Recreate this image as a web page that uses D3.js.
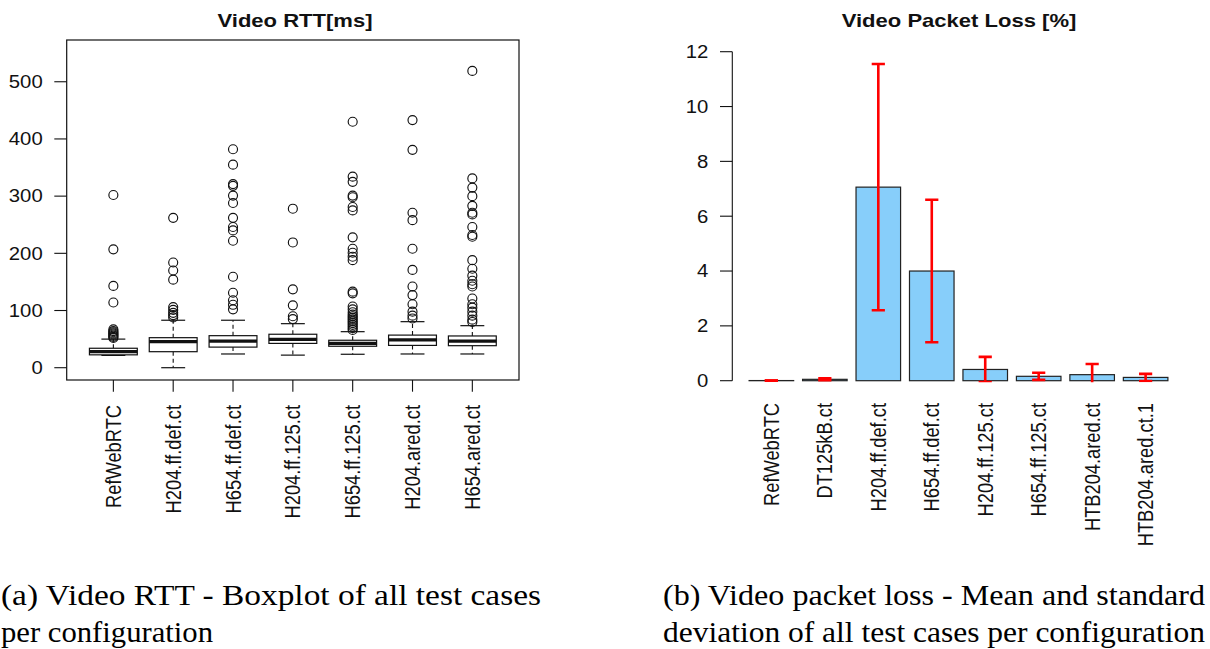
<!DOCTYPE html>
<html><head><meta charset="utf-8">
<script src="https://cdn.jsdelivr.net/npm/d3@7"></script>
<style>body{margin:0;background:#fff}svg{display:block}</style>
</head><body>
<svg id="c" width="1210" height="649"></svg>
<script>
// ---------- data ----------
const rttTitle = "Video RTT[ms]";
const rttCategories = ["RefWebRTC","H204.ff.def.ct","H654.ff.def.ct","H204.ff.125.ct","H654.ff.125.ct","H204.ared.ct","H654.ared.ct"];
// [lower whisker, Q1, median, Q3, upper whisker]
const rttStats = [
  [21.5, 22.5, 28, 34, 50],
  [0, 28, 45.5, 52.5, 83],
  [24, 36, 46.5, 56, 83],
  [22, 42.5, 49.5, 58.5, 77],
  [23.5, 37.5, 42.5, 48, 63],
  [24, 39, 48.5, 57, 80.5],
  [24, 38.5, 46.5, 55.5, 73.5]
];
const rttOutliers = [
  [52, 54, 56, 58, 60, 62, 64, 67, 114, 143, 207, 302],
  [88, 92, 96, 101, 106, 154, 170, 184, 262],
  [102, 110, 118, 131, 159, 222, 240, 246, 262, 288, 301, 318, 321, 355, 382],
  [85, 90, 109, 137, 219, 278],
  [66, 69, 72, 75, 78, 81, 84, 87, 90, 93, 97, 102, 107, 130, 133, 188, 194, 201, 208, 228, 275, 281, 298, 301, 325, 334, 430],
  [86, 91, 98, 111, 127, 142, 171, 208, 258, 271, 381, 433],
  [80, 84, 91, 98, 105, 111, 121, 142, 146, 152, 161, 173, 188, 229, 232, 246, 268, 271, 283, 300, 315, 331, 519]
];
const rttTicks = [0, 100, 200, 300, 400, 500];

const lossTitle = "Video Packet Loss [%]";
const lossCategories = ["RefWebRTC","DT125kB.ct","H204.ff.def.ct","H654.ff.def.ct","H204.ff.125.ct","H654.ff.125.ct","HTB204.ared.ct","HTB204.ared.ct.1"];
const lossMean = [0.005, 0.05, 7.06, 4.0, 0.41, 0.16, 0.22, 0.12];
const lossSd   = [0.003, 0.035, 4.49, 2.6, 0.46, 0.13, 0.39, 0.13];
const lossTicks = [0, 2, 4, 6, 8, 10, 12];

const captionA = ["(a) Video RTT - Boxplot of all test cases", "per configuration"];
const captionB = ["(b) Video packet loss - Mean and standard", "deviation of all test cases per configuration"];

// ---------- drawing ----------
const svg = d3.select("#c");
svg.append("rect").attr("width",1210).attr("height",649).attr("fill","#fff");
const SX = 1.16;
const sans = "'Liberation Sans', Arial, Helvetica, sans-serif";
const ink = "#111";

function hText(g, x, y, txt, opts) {
  return g.append("text")
    .attr("transform", `translate(${x},${y}) scale(${SX},1)`)
    .attr("text-anchor", opts.anchor || "middle")
    .attr("dy", opts.dy || "0")
    .attr("font-family", sans)
    .attr("font-size", opts.size || 16)
    .attr("font-weight", opts.weight || "normal")
    .attr("fill", ink)
    .text(txt);
}
function vText(g, x, y, txt, size) {
  return g.append("text")
    .attr("transform", `translate(${x},${y}) scale(${SX},1) rotate(-90)`)
    .attr("text-anchor", "end")
    .attr("dy", "0.36em")
    .attr("font-family", sans)
    .attr("font-size", size)
    .attr("fill", ink)
    .text(txt);
}

// ===== Left: boxplot =====
{
  const L = {x0: 66.7, x1: 519, y0: 40, y1: 380};
  const g = svg.append("g");
  const x = d3.scalePoint().domain(rttCategories).range([L.x0, L.x1]).padding(0.78);
  const y = d3.scaleLinear().domain([-21.5, 573]).range([L.y1, L.y0]);
  const bw = x.step() * 0.8;
  const cap = bw / 4;

  hText(g, 295, 27, rttTitle, {size: 19, weight: "bold"});

  // frame
  g.append("rect").attr("x", L.x0).attr("y", L.y0).attr("width", L.x1 - L.x0).attr("height", L.y1 - L.y0)
    .attr("fill", "none").attr("stroke", ink).attr("stroke-width", 1.2);

  // y axis ticks
  rttTicks.forEach(t => {
    g.append("line").attr("x1", L.x0 - 12.4).attr("x2", L.x0).attr("y1", y(t)).attr("y2", y(t))
      .attr("stroke", ink).attr("stroke-width", 1.1);
    hText(g, 42.7, y(t), d3.format("d")(t), {anchor: "end", dy: "0.36em", size: 17.5});
  });
  // x ticks + labels
  rttCategories.forEach(c => {
    g.append("line").attr("x1", x(c)).attr("x2", x(c)).attr("y1", L.y1).attr("y2", L.y1 + 11.7)
      .attr("stroke", ink).attr("stroke-width", 1.1);
    vText(g, x(c), 405, c, 18.3);
  });

  rttCategories.forEach((c, i) => {
    const [lo, q1, med, q3, hi] = rttStats[i];
    const cx = x(c);
    const bg = g.append("g");
    // whiskers (dashed)
    bg.append("line").attr("x1", cx).attr("x2", cx).attr("y1", y(q3)).attr("y2", y(hi))
      .attr("stroke", ink).attr("stroke-width", 1.1).attr("stroke-dasharray", "4,3");
    bg.append("line").attr("x1", cx).attr("x2", cx).attr("y1", y(q1)).attr("y2", y(lo))
      .attr("stroke", ink).attr("stroke-width", 1.1).attr("stroke-dasharray", "4,3");
    // staples
    [lo, hi].forEach(v => bg.append("line").attr("x1", cx - cap).attr("x2", cx + cap)
      .attr("y1", y(v)).attr("y2", y(v)).attr("stroke", ink).attr("stroke-width", 1.2));
    // box
    bg.append("rect").attr("x", cx - bw / 2).attr("y", y(q3)).attr("width", bw).attr("height", y(q1) - y(q3))
      .attr("fill", "#fff").attr("stroke", ink).attr("stroke-width", 1.2);
    // median
    bg.append("line").attr("x1", cx - bw / 2).attr("x2", cx + bw / 2).attr("y1", y(med)).attr("y2", y(med))
      .attr("stroke", ink).attr("stroke-width", 3.3);
    // outliers
    bg.selectAll("circle").data(rttOutliers[i]).join("circle")
      .attr("cx", cx).attr("cy", d => y(d)).attr("r", 4.5)
      .attr("fill", "none").attr("stroke", ink).attr("stroke-width", 1.15);
  });
}

// ===== Right: bar chart with error bars =====
{
  const g = svg.append("g");
  const x = d3.scaleBand().domain(lossCategories).range([732, 1185]).paddingInner(1 / 6).paddingOuter(0.32);
  const y = d3.scaleLinear().domain([0, 12]).range([380.7, 51.7]);
  const axX = 732.3;

  hText(g, 959, 27, lossTitle, {size: 19, weight: "bold"});

  // y axis
  g.append("line").attr("x1", axX).attr("x2", axX).attr("y1", y(12)).attr("y2", y(0))
    .attr("stroke", ink).attr("stroke-width", 1.1);
  lossTicks.forEach(t => {
    g.append("line").attr("x1", axX - 12.3).attr("x2", axX).attr("y1", y(t)).attr("y2", y(t))
      .attr("stroke", ink).attr("stroke-width", 1.1);
    hText(g, 708.3, y(t), d3.format("d")(t), {anchor: "end", dy: "0.36em", size: 17.5});
  });

  // bars
  g.selectAll("rect.bar").data(lossCategories).join("rect").attr("class", "bar")
    .attr("x", d => x(d)).attr("width", x.bandwidth())
    .attr("y", (d, i) => y(lossMean[i])).attr("height", (d, i) => y(0) - y(lossMean[i]))
    .attr("fill", "#87CEFA").attr("stroke", "#222").attr("stroke-width", 1.2);

  // labels
  lossCategories.forEach(c => vText(g, x(c) + x.bandwidth() / 2, 403, c, 18.3));

  // error bars, clipped at the baseline
  const clipId = "errclip";
  svg.append("defs").append("clipPath").attr("id", clipId).append("rect")
    .attr("x", 700).attr("y", y(12.6)).attr("width", 510).attr("height", y(0) + 1.6 - y(12.6));
  const eg = g.append("g").attr("clip-path", `url(#${clipId})`);
  const capW = 6.6;
  lossCategories.forEach((c, i) => {
    const cx = x(c) + x.bandwidth() / 2;
    const hi = lossMean[i] + lossSd[i], lo = lossMean[i] - lossSd[i];
    eg.append("line").attr("x1", cx).attr("x2", cx).attr("y1", y(lo)).attr("y2", y(hi))
      .attr("stroke", "#ff0000").attr("stroke-width", 2.6);
    [lo, hi].forEach(v => eg.append("line").attr("x1", cx - capW).attr("x2", cx + capW)
      .attr("y1", y(v)).attr("y2", y(v)).attr("stroke", "#ff0000").attr("stroke-width", 2.6));
  });
}

// ===== Captions =====
{
  const serif = "'Liberation Serif', 'DejaVu Serif', serif";
  const cap = svg.append("g").attr("font-family", serif).attr("font-size", 30).attr("fill", "#000");
  const lines = [
    {t: captionA[0], x: 1, y: 605, w: 540},
    {t: captionA[1], x: 1, y: 642, w: 212},
    {t: captionB[0], x: 663, y: 605, w: 542},
    {t: captionB[1], x: 663, y: 642, w: 542}
  ];
  lines.forEach(l => cap.append("text").attr("x", l.x).attr("y", l.y)
    .attr("textLength", l.w).attr("lengthAdjust", "spacingAndGlyphs").text(l.t));
}
</script>
</body></html>
